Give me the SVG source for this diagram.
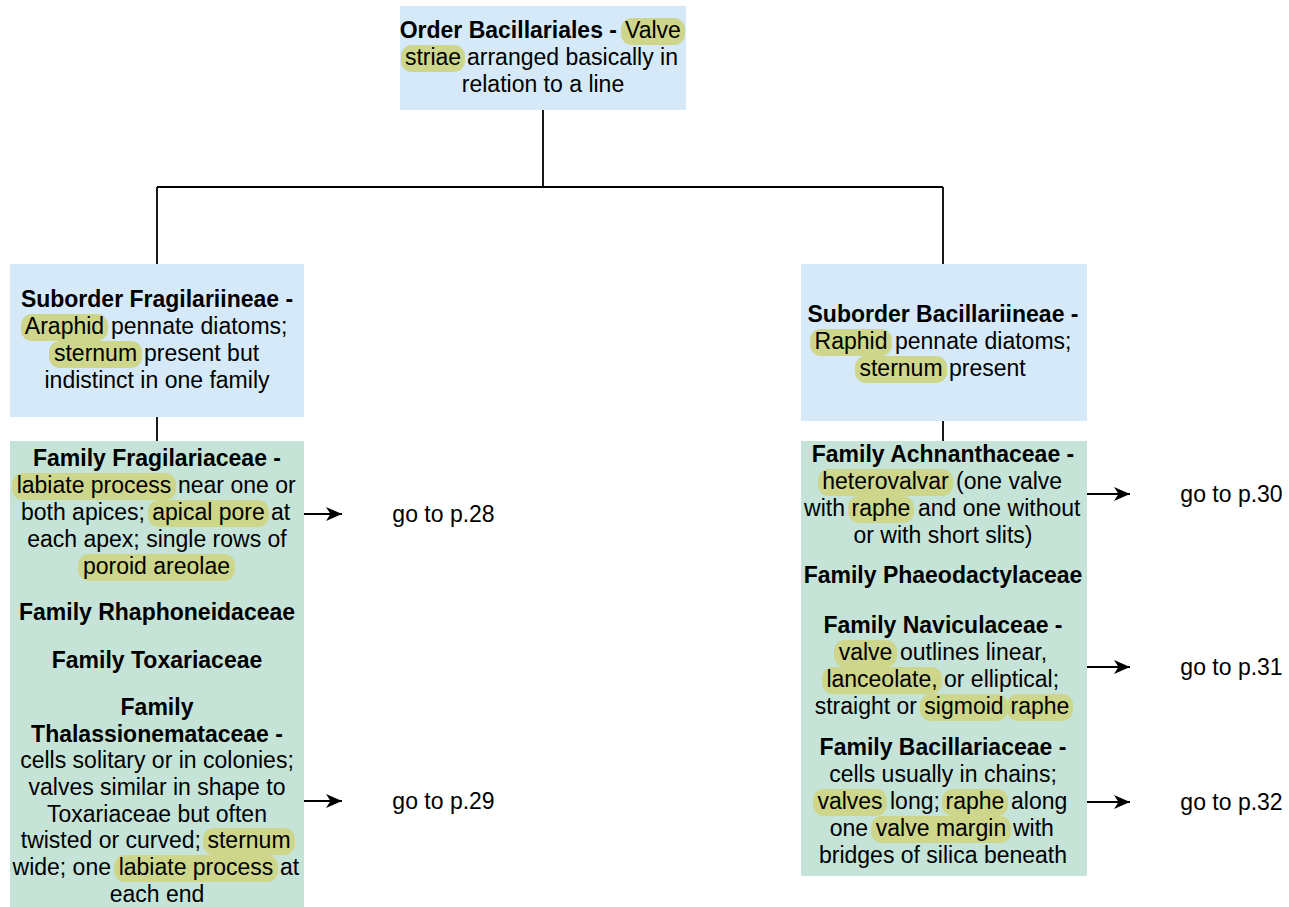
<svg xmlns="http://www.w3.org/2000/svg" width="1289" height="907" viewBox="0 0 1289 907">
  <defs>
    <style>
      .t { font-family: "Liberation Sans", Arial, Helvetica, sans-serif; font-size: 23px; fill: #000; }
      .b { font-weight: bold; }
      .m { text-anchor: middle; }
      .e { text-anchor: end; }
      .blue { fill: #d5e9f8; }
      .green { fill: #c5e4d7; }
      .hl { fill: #cdd68a; }
      .conn { fill: none; stroke: #000; stroke-width: 1.8; }
    </style>
    <marker id="arrow" viewBox="0 0 16 16" markerWidth="16" markerHeight="16" markerUnits="userSpaceOnUse" refX="16" refY="8" orient="auto">
      <path d="M0,1 L16,8 L0,15 L4.5,8 Z" fill="#000"/>
    </marker>
  </defs>

  <rect width="1289" height="907" fill="#fff"/>

  <!-- connectors -->
  <g id="connectors" class="conn">
    <path d="M543,110 V187 M157,187 H943 M157,187 V264 M943,187 V264"/>
    <path d="M157,417 V441 M943,421 V441"/>
    <path d="M304,514 H342" marker-end="url(#arrow)"/>
    <path d="M304,801 H342" marker-end="url(#arrow)"/>
    <path d="M1087,494 H1130" marker-end="url(#arrow)"/>
    <path d="M1087,667 H1130" marker-end="url(#arrow)"/>
    <path d="M1087,802 H1130" marker-end="url(#arrow)"/>
  </g>

  <!-- order -->
  <g id="order">
    <rect class="blue" x="400" y="6" width="286" height="104"/>
    <rect class="hl" x="621" y="18" width="64" height="27" rx="11"/>
    <rect class="hl" x="401" y="45" width="64" height="27" rx="11"/>
    <text class="t b e" x="617" y="38">Order Bacillariales -</text>
    <text class="t m" x="653" y="38">Valve</text>
    <text class="t m" x="433" y="65">striae</text>
    <text class="t" x="467" y="65">arranged basically in</text>
    <text class="t m" x="543" y="92">relation to a line</text>
  </g>

  <!-- suborder Fragilariineae -->
  <g id="suborder-fragilariineae">
    <rect class="blue" x="10" y="264" width="294" height="153"/>
    <rect class="hl" x="21" y="314" width="87" height="27" rx="11"/>
    <rect class="hl" x="49" y="341" width="93" height="27" rx="11"/>
    <text class="t b m" x="157" y="307">Suborder Fragilariineae -</text>
    <text class="t m" x="64.5" y="334">Araphid</text>
    <text class="t" x="111" y="334">pennate diatoms;</text>
    <text class="t m" x="95.5" y="361">sternum</text>
    <text class="t" x="144" y="361">present but</text>
    <text class="t m" x="157" y="388">indistinct in one family</text>
  </g>

  <!-- families of Fragilariineae -->
  <g id="families-fragilariineae">
    <rect class="green" x="10" y="441" width="294" height="466"/>
    <rect class="hl" x="12" y="473" width="164" height="27" rx="11"/>
    <rect class="hl" x="148" y="500" width="121" height="27" rx="11"/>
    <rect class="hl" x="78" y="554" width="157" height="27" rx="11"/>
    <rect class="hl" x="203" y="828" width="92" height="27" rx="11"/>
    <rect class="hl" x="114" y="855" width="164" height="27" rx="11"/>

    <text class="t b m" x="157" y="466">Family Fragilariaceae -</text>
    <text class="t m" x="94" y="493">labiate process</text>
    <text class="t" x="178" y="493">near one or</text>
    <text class="t e" x="145" y="520">both apices;</text>
    <text class="t m" x="208.5" y="520">apical pore</text>
    <text class="t" x="271" y="520">at</text>
    <text class="t m" x="157" y="547">each apex; single rows of</text>
    <text class="t m" x="156.5" y="574">poroid areolae</text>

    <text class="t b m" x="157" y="620">Family Rhaphoneidaceae</text>

    <text class="t b m" x="157" y="668">Family Toxariaceae</text>

    <text class="t b m" x="157" y="715">Family</text>
    <text class="t b m" x="157" y="742">Thalassionemataceae -</text>
    <text class="t m" x="157" y="768">cells solitary or in colonies;</text>
    <text class="t m" x="157" y="795">valves similar in shape to</text>
    <text class="t m" x="157" y="822">Toxariaceae but often</text>
    <text class="t e" x="201" y="848">twisted or curved;</text>
    <text class="t m" x="249" y="848">sternum</text>
    <text class="t e" x="111" y="875">wide; one</text>
    <text class="t m" x="196" y="875">labiate process</text>
    <text class="t" x="280" y="875">at</text>
    <text class="t m" x="157" y="902">each end</text>
  </g>

  <!-- suborder Bacillariineae -->
  <g id="suborder-bacillariineae">
    <rect class="blue" x="801" y="264" width="286" height="157"/>
    <rect class="hl" x="810" y="329" width="82" height="27" rx="11"/>
    <rect class="hl" x="855" y="356" width="92" height="27" rx="11"/>
    <text class="t b m" x="943" y="322">Suborder Bacillariineae -</text>
    <text class="t m" x="851" y="349">Raphid</text>
    <text class="t" x="895" y="349">pennate diatoms;</text>
    <text class="t m" x="901" y="376">sternum</text>
    <text class="t" x="949" y="376">present</text>
  </g>

  <!-- families of Bacillariineae -->
  <g id="families-bacillariineae">
    <rect class="green" x="801" y="441" width="286" height="435"/>
    <rect class="hl" x="818" y="469" width="135" height="27" rx="11"/>
    <rect class="hl" x="848" y="496" width="66" height="27" rx="11"/>
    <rect class="hl" x="834" y="640" width="63" height="27" rx="11"/>
    <rect class="hl" x="822" y="667" width="120" height="27" rx="11"/>
    <rect class="hl" x="920" y="694" width="88" height="27" rx="11"/>
    <rect class="hl" x="1007" y="694" width="66" height="27" rx="11"/>
    <rect class="hl" x="813" y="789" width="74" height="27" rx="11"/>
    <rect class="hl" x="942" y="789" width="66" height="27" rx="11"/>
    <rect class="hl" x="871" y="816" width="140" height="27" rx="11"/>

    <text class="t b m" x="943" y="462">Family Achnanthaceae -</text>
    <text class="t m" x="885.5" y="489">heterovalvar</text>
    <text class="t" x="956" y="489">(one valve</text>
    <text class="t e" x="845" y="516">with</text>
    <text class="t m" x="881" y="516">raphe</text>
    <text class="t" x="918" y="516">and one without</text>
    <text class="t m" x="943" y="543">or with short slits)</text>

    <text class="t b m" x="943" y="583">Family Phaeodactylaceae</text>

    <text class="t b m" x="943" y="633">Family Naviculaceae -</text>
    <text class="t m" x="865.5" y="660">valve</text>
    <text class="t" x="900" y="660">outlines linear,</text>
    <text class="t m" x="882" y="687">lanceolate,</text>
    <text class="t" x="944" y="687">or elliptical;</text>
    <text class="t e" x="917" y="714">straight or</text>
    <text class="t m" x="964" y="714">sigmoid</text>
    <text class="t m" x="1040" y="714">raphe</text>

    <text class="t b m" x="943" y="755">Family Bacillariaceae -</text>
    <text class="t m" x="943" y="782">cells usually in chains;</text>
    <text class="t m" x="850" y="809">valves</text>
    <text class="t" x="890" y="809">long;</text>
    <text class="t m" x="975" y="809">raphe</text>
    <text class="t" x="1011" y="809">along</text>
    <text class="t e" x="868" y="836">one</text>
    <text class="t m" x="941" y="836">valve margin</text>
    <text class="t" x="1013" y="836">with</text>
    <text class="t m" x="943" y="863">bridges of silica beneath</text>
  </g>

  <!-- page references -->
  <g id="refs">
    <text class="t m" x="443.5" y="522">go to p.28</text>
    <text class="t m" x="443.5" y="809">go to p.29</text>
    <text class="t m" x="1231.5" y="502">go to p.30</text>
    <text class="t m" x="1231.5" y="675">go to p.31</text>
    <text class="t m" x="1231.5" y="810">go to p.32</text>
  </g>
</svg>
